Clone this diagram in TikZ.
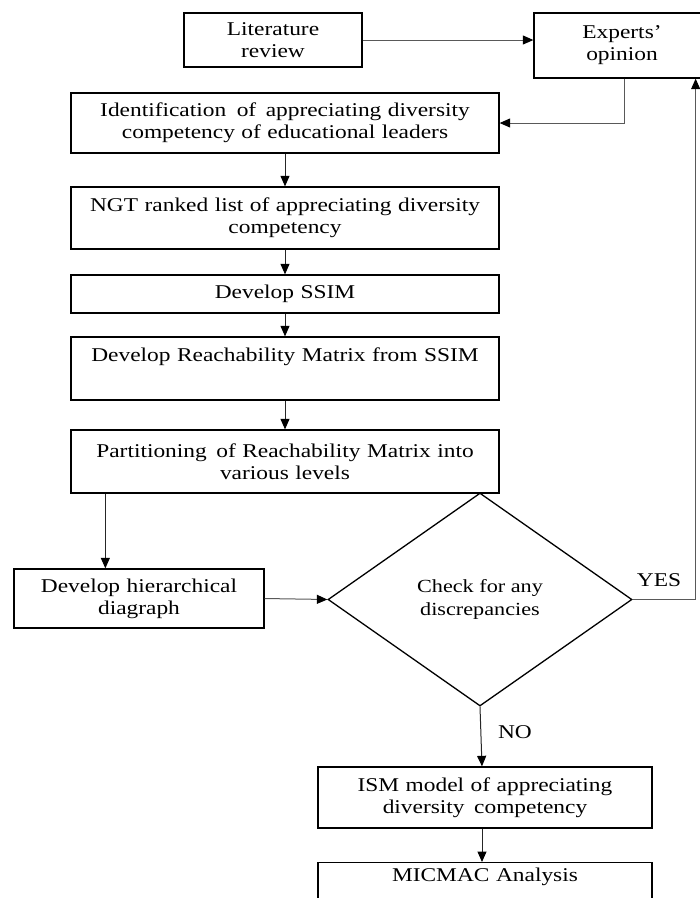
\documentclass[tikz,border=0pt]{standalone}
\usepackage{fontspec}
\setmainfont{Liberation Serif}[FakeStretch=1.2]
\usetikzlibrary{shapes.geometric,arrows.meta,calc}
\newcommand{\fsz}{\fontsize{19.5}{22}\selectfont}
\newcommand{\fszd}{\fontsize{18.5}{23}\selectfont}
\begin{document}
\begin{tikzpicture}[x=1pt,y=-1pt,
  box/.style={draw=black, line width=1.3pt, inner sep=0pt, align=center, font=\fsz},
  arr/.style={draw=black!85, line width=1pt, -{Triangle[length=10.5pt,width=9pt,color=black]}},
  garr/.style={draw=black!65, line width=1pt, -{Triangle[length=10.5pt,width=9pt,color=black]}},
  lbl/.style={font=\fsz, inner sep=0pt}]
\useasboundingbox (0,0) rectangle (700,898);
\clip (0,0) rectangle (700,898);

\node[box, minimum width=178pt, minimum height=54pt, text width=170pt] (lit) at (273,40) {Literature\\review};
\node[box, minimum width=176pt, minimum height=65pt, text width=168pt] (experts) at (622,45.5) {Experts’\\opinion};
\node[box, minimum width=428pt, minimum height=60pt, text width=420pt] (ident) at (285,123)
  {Identification\hspace{4pt} of\hspace{3pt} appreciating diversity\\competency of educational leaders};
\node[box, minimum width=428pt, minimum height=62pt, text width=420pt] (ngt) at (285,218)
  {NGT ranked list of appreciating diversity\\competency};
\node[box, minimum width=428pt, minimum height=38pt, text width=420pt] (ssim) at (285,294) {Develop SSIM};
\node[box, minimum width=428pt, minimum height=63pt, text width=420pt] (reach) at (285,368.5)
  {Develop Reachability Matrix from SSIM\\\strut};
\node[box, minimum width=428pt, minimum height=63pt, text width=420pt] (part) at (285,461.5)
  {Partitioning\hspace{3pt} of Reachability Matrix into\\various levels};
\node[box, minimum width=250pt, minimum height=59pt, text width=242pt] (hier) at (139,598.5)
  {Develop hierarchical\\diagraph};
\node[draw=black, diamond, line width=1.3pt, minimum width=304pt, minimum height=213pt,
  inner sep=0pt, align=center, font=\fszd] (dia) at (480,599.5) {Check for any\\discrepancies};
\node[box, minimum width=334pt, minimum height=61pt, text width=326pt] (ism) at (485,797.5)
  {ISM model of appreciating\\diversity\hspace{3pt} competency};
\node[box, anchor=north, minimum width=334pt, minimum height=52pt, text width=326pt] (micmac) at (485,862)
  {MICMAC Analysis\\\strut};

\node[lbl] (yes) at (659,580) {YES};
\node[lbl] (no) at (515,732) {NO};

% connectors
\draw[garr] (lit.east) -- (lit.east -| experts.west);
\draw[garr] ([xshift=2pt]experts.south) |- (ident.east);
\draw[arr] (ident.south) -- (ngt.north);
\draw[arr] (ngt.south) -- (ssim.north);
\draw[arr] (ssim.south) -- (reach.north);
\draw[arr] (reach.south) -- (part.north);
\draw[arr] ([xshift=35pt]part.south west) -- ([xshift=35pt]part.south west |- hier.north);
\draw[garr] (hier.east) -- (dia.west);
\draw[garr] (dia.east) -| ([xshift=-15pt]experts.south east);
\draw[arr] (dia.south) -- ([xshift=2pt]dia.south |- ism.north);
\draw[arr] ([xshift=2pt]dia.south |- ism.south) -- ([xshift=2pt]dia.south |- micmac.north);
\end{tikzpicture}
\end{document}
